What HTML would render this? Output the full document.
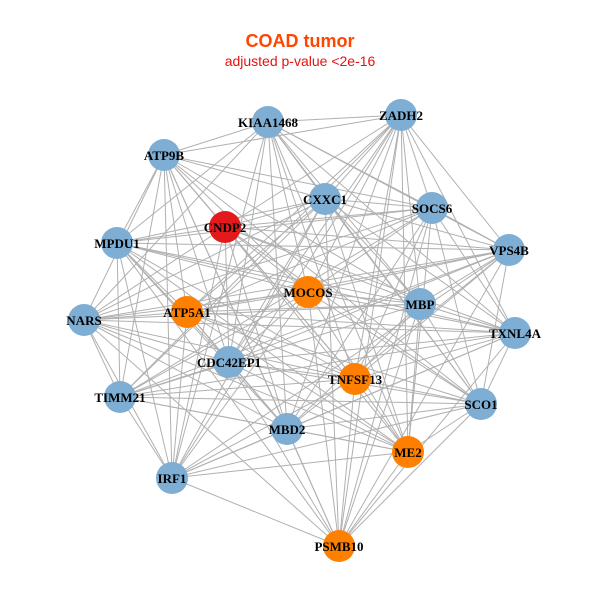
<!DOCTYPE html>
<html><head><meta charset="utf-8"><style>
html,body{margin:0;padding:0;background:#fff;}
svg{display:block;}
.l{font-family:"Liberation Serif",serif;font-weight:bold;font-size:13px;fill:#000;text-anchor:middle;}
</style></head><body>
<svg id="s" width="600" height="600" xmlns="http://www.w3.org/2000/svg">
<rect width="600" height="600" fill="#fff"/>
<g id="e" stroke="#b0b0b0" stroke-width="1"></g>
<g id="n"></g>
<text x="300" y="47" font-family="Liberation Sans,sans-serif" font-weight="bold" font-size="18" fill="#ff4500" text-anchor="middle">COAD tumor</text>
<text x="300" y="66" font-family="Liberation Sans,sans-serif" font-size="14" fill="#e81010" text-anchor="middle">adjusted p-value &lt;2e-16</text>
<g>
<text class="l" x="268" y="127">KIAA1468</text>
<text class="l" x="401" y="120">ZADH2</text>
<text class="l" x="164" y="160">ATP9B</text>
<text class="l" x="325" y="204">CXXC1</text>
<text class="l" x="432" y="213">SOCS6</text>
<text class="l" x="225" y="232">CNDP2</text>
<text class="l" x="117" y="248">MPDU1</text>
<text class="l" x="509" y="255">VPS4B</text>
<text class="l" x="308" y="297">MOCOS</text>
<text class="l" x="420" y="309">MBP</text>
<text class="l" x="187" y="317">ATP5A1</text>
<text class="l" x="84" y="325">NARS</text>
<text class="l" x="515" y="338">TXNL4A</text>
<text class="l" x="355" y="384">TNFSF13</text>
<text class="l" x="229" y="367">CDC42EP1</text>
<text class="l" x="120" y="402">TIMM21</text>
<text class="l" x="481" y="409">SCO1</text>
<text class="l" x="408" y="457">ME2</text>
<text class="l" x="287" y="434">MBD2</text>
<text class="l" x="172" y="483">IRF1</text>
<text class="l" x="339" y="551">PSMB10</text>
</g>
</svg>
<script>
var N=[[268,122,'b'],[401,115,'b'],[164,155,'b'],[325,199,'b'],[432,208,'b'],[225,227,'r'],[117,243,'b'],[509,250,'b'],[308,292,'o'],[420,304,'b'],[187,312,'o'],[84,320,'b'],[515,333,'b'],[355,379,'o'],[229,362,'b'],[120,397,'b'],[481,404,'b'],[408,452,'o'],[287,429,'b'],[172,478,'b'],[339,546,'o']];
var C={b:'#7eaed3',o:'#ff8000',r:'#e31a1c'};
var ns='http://www.w3.org/2000/svg',e=document.getElementById('e'),n=document.getElementById('n');
for(var i=0;i<N.length;i++)for(var j=i+1;j<N.length;j++){
 if(((i*7+j*13)%5)==0)continue;
 var l=document.createElementNS(ns,'line');
 l.setAttribute('x1',N[i][0]);l.setAttribute('y1',N[i][1]);l.setAttribute('x2',N[j][0]);l.setAttribute('y2',N[j][1]);e.appendChild(l);}
N.forEach(function(p){var c=document.createElementNS(ns,'circle');c.setAttribute('cx',p[0]);c.setAttribute('cy',p[1]);c.setAttribute('r',16);c.setAttribute('fill',C[p[2]]);n.appendChild(c);});
</script>
</body></html>
